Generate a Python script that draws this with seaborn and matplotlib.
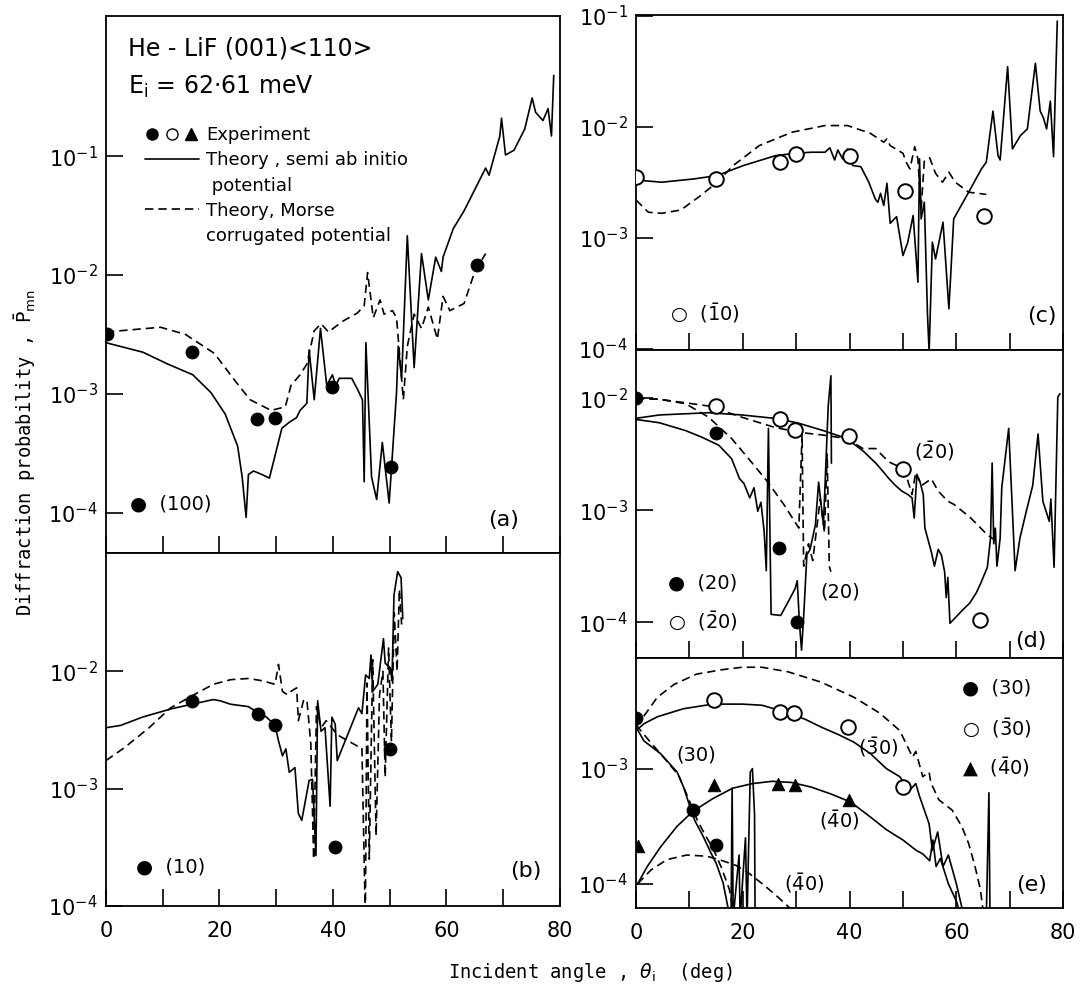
import numpy as np
import pandas as pd
import seaborn as sns
import matplotlib.pyplot as plt
from matplotlib.lines import Line2D
from matplotlib.legend_handler import HandlerTuple
from matplotlib.ticker import FixedLocator, NullLocator, LogFormatterMathtext

# values: (incident angle in deg, log10 of P)
a_solid = [(0, -2.57), (6.5, -2.65), (10.9, -2.75), (15.3, -2.84), (18.5, -2.99), (21.0, -3.17),
           (23.2, -3.44), (24.0, -3.7), (24.7, -4.04), (25.1, -3.68), (26.0, -3.65), (27.5, -3.68),
           (28.8, -3.71), (31.0, -3.29), (32.3, -3.24), (33.6, -3.20), (34.2, -3.14), (34.8, -3.11),
           (35.4, -3.08), (35.8, -2.63), (36.7, -3.05), (37.8, -2.45), (38.9, -2.93), (39.9, -2.84),
           (40.5, -2.93), (41.1, -2.87), (42.0, -2.87), (43.3, -2.87), (44.3, -2.96), (45.2, -3.05),
           (45.5, -3.74), (45.8, -2.57), (46.8, -3.70), (47.7, -3.89), (48.7, -3.41), (49.9, -3.92),
           (51.2, -2.99), (51.5, -2.60), (52.1, -2.87), (53.1, -1.67), (54.3, -2.78), (55.6, -1.82),
           (56.8, -2.21), (58.1, -1.85), (59.1, -1.97), (59.4, -1.85), (61.2, -1.61), (63.1, -1.46),
           (65.0, -1.28), (66.9, -1.10), (67.5, -1.16), (69.4, -0.83), (69.7, -0.68), (70.4, -0.99),
           (71.9, -0.95), (73.8, -0.77), (75.1, -0.51), (75.7, -0.63), (77.0, -0.70), (77.9, -0.60),
           (78.5, -0.83), (78.9, -0.32)]
a_dashed = [(0, -2.48), (9.6, -2.44), (14.0, -2.50), (19.1, -2.66), (22.9, -2.90), (25.4, -3.05),
            (29.1, -3.14), (31.6, -3.11), (32.6, -2.93), (34.2, -2.84), (35.4, -2.75), (36.7, -2.47),
            (37.9, -2.41), (39.2, -2.48), (41.7, -2.39), (44.3, -2.32), (45.5, -2.26), (46.1, -1.98),
            (47.1, -2.36), (48.3, -2.21), (49.0, -2.33), (50.5, -2.30), (51.2, -2.36), (52.4, -3.05),
            (53.1, -2.60), (54.3, -2.33), (55.6, -2.45), (56.8, -2.27), (58.4, -2.54), (59.4, -2.18),
            (60.6, -2.30), (63.1, -2.24), (65.0, -1.97), (66.9, -1.82)]
a_exp = [(0.2, -2.50), (15.1, -2.65), (26.6, -3.21), (29.8, -3.20), (39.9, -2.94), (50.2, -3.62), (65.3, -1.92)]

b_solid = [(0, -2.48), (2.6, -2.46), (6.4, -2.39), (11.4, -2.32), (15.1, -2.28), (18.9, -2.24),
           (20.1, -2.25), (22.0, -2.28), (25.1, -2.30), (26.4, -2.34), (28.3, -2.39), (29.8, -2.46),
           (30.4, -2.59), (31.1, -2.72), (31.7, -2.66), (32.3, -2.86), (33.3, -2.82), (33.9, -3.21),
           (34.5, -3.27), (35.8, -2.93), (36.4, -2.92), (37.0, -3.57), (37.3, -2.25), (37.9, -2.51),
           (38.6, -2.48), (39.5, -3.15), (39.8, -2.39), (40.4, -2.45), (40.75, -2.76), (44.5, -2.31),
           (45.1, -2.36), (45.75, -2.03), (46.4, -2.06), (46.7, -1.86), (47.0, -2.17), (47.9, -2.11),
           (48.9, -1.72), (49.2, -1.93), (50.1, -1.97), (50.4, -2.08), (50.75, -1.35), (51.4, -1.15),
           (52.0, -1.20), (52.3, -1.55)]
b_dashed = [(0, -2.76), (3.25, -2.65), (7.6, -2.48), (11.4, -2.31), (15.1, -2.21), (18.9, -2.11),
            (22.0, -2.07), (25.1, -2.06), (27.6, -2.08), (29.8, -2.11), (30.4, -1.94), (31.1, -2.17),
            (32.0, -2.20), (32.6, -2.17), (33.6, -2.14), (33.9, -2.42), (34.8, -2.25), (35.4, -2.24),
            (36.1, -2.62), (36.6, -3.6), (37.1, -2.30), (37.9, -2.48), (38.8, -2.42), (39.8, -2.48),
            (40.75, -2.54), (42.6, -2.59), (44.8, -2.65), (45.1, -2.65), (45.7, -4.1), (46.0, -2.10),
            (46.4, -3.6), (47.0, -1.90), (47.6, -3.4), (48.2, -2.20), (48.8, -2.00), (49.2, -2.90),
            (49.8, -1.80), (50.3, -2.60), (50.8, -1.50), (51.3, -2.00), (51.7, -1.30), (52.1, -1.60)]
b_exp = [(15.1, -2.25), (26.75, -2.36), (29.7, -2.46), (40.4, -3.5), (50.1, -2.66)]

c_solid = [(0, -2.48), (4.8, -2.50), (10.9, -2.47), (15.2, -2.44), (20.1, -2.35), (26.2, -2.26),
           (29.8, -2.24), (32.8, -2.23), (35.4, -2.23), (36.3, -2.19), (37.2, -2.30), (37.8, -2.21),
           (38.7, -2.29), (39.6, -2.20), (40.6, -2.35), (42.1, -2.36), (43.6, -2.50), (44.8, -2.65),
           (45.3, -2.68), (45.8, -2.60), (46.4, -2.71), (47.0, -2.51), (47.6, -2.87), (48.8, -2.81),
           (50.0, -3.16), (50.9, -3.04), (51.9, -2.80), (52.8, -3.40), (53.1, -2.29), (53.4, -2.83),
           (54.0, -2.68), (54.6, -3.70), (54.9, -4.03), (55.5, -3.04), (56.1, -3.19), (57.5, -2.86),
           (58.6, -3.64), (59.5, -2.83), (62.3, -2.59), (64.7, -2.38), (65.6, -2.32), (66.85, -1.86),
           (67.8, -2.26), (68.2, -2.30), (69.6, -1.46), (70.5, -2.20), (72.0, -2.08), (73.3, -2.02),
           (74.8, -1.43), (75.7, -1.86), (76.3, -1.92), (76.9, -2.02), (77.6, -1.77), (78.2, -2.27),
           (78.9, -1.05)]
c_dashed = [(0, -2.66), (2.3, -2.77), (4.8, -2.78), (8.4, -2.75), (12.1, -2.62), (15.2, -2.50),
            (18.2, -2.35), (23.1, -2.17), (29.2, -2.05), (35.4, -1.99), (39.6, -1.99), (43.9, -2.06),
            (46.4, -2.14), (47.0, -2.11), (47.6, -2.17), (50.0, -2.24), (50.6, -2.32), (51.3, -2.38),
            (52.2, -2.18), (52.8, -2.29), (53.4, -2.74), (54.0, -2.31), (55.0, -2.28), (56.1, -2.42),
            (57.4, -2.50), (58.6, -2.41), (59.8, -2.50), (62.3, -2.59), (64.1, -2.60), (65.6, -2.61)]
c_exp_m10 = [(0, -2.45), (15.0, -2.47), (26.9, -2.32), (30.0, -2.25), (40.1, -2.26), (50.3, -2.58), (65.2, -2.80)]

d_solid_m20 = [(0, -2.18), (4.4, -2.15), (13.6, -2.13), (19.8, -2.15), (25.9, -2.18), (30.2, -2.22),
               (35.1, -2.29), (39.4, -2.36), (42.5, -2.47), (44.9, -2.58), (46.0, -2.64), (47.4, -2.72),
               (48.6, -2.78), (49.8, -2.83), (50.9, -2.86), (51.7, -2.89), (52.1, -3.07), (52.6, -2.69),
               (53.2, -2.75), (53.8, -2.86), (54.1, -3.16), (55.3, -3.37), (55.9, -3.50), (56.6, -3.35),
               (57.2, -3.40), (57.8, -3.55), (58.1, -3.78), (58.4, -3.60), (58.8, -4.01), (60.0, -3.95),
               (61.2, -3.89), (62.5, -3.83), (63.7, -3.74), (64.5, -3.66), (65.8, -3.51), (66.4, -3.25),
               (66.7, -2.58), (67.0, -3.30), (67.3, -3.16), (67.6, -3.50), (68.2, -3.25), (68.5, -2.80),
               (69.8, -2.27), (71.0, -3.54), (71.9, -3.25), (73.1, -3.01), (74.3, -2.78), (75.3, -2.32),
               (76.2, -2.92), (77.4, -3.10), (77.7, -2.90), (78.3, -3.51), (79.0, -1.99), (79.4, -1.96)]
d_solid_20 = [(0, -2.19), (4.4, -2.22), (9.3, -2.29), (12.4, -2.35), (15.5, -2.42), (17.9, -2.54),
              (19.4, -2.72), (20.2, -2.76), (21.3, -2.89), (22.1, -2.80), (22.8, -3.01), (23.4, -2.93),
              (24.0, -3.19), (24.4, -3.54), (24.8, -2.27), (25.3, -3.93), (27.1, -3.94), (28.7, -3.80),
              (29.8, -3.70), (30.2, -3.63), (30.6, -4.00), (31.0, -4.25), (31.4, -3.95), (32.0, -3.40),
              (32.6, -3.35), (33.6, -3.13), (34.2, -2.75), (35.1, -3.13), (36.0, -2.07), (36.5, -1.80),
              (36.6, -2.58)]
d_dashed_20 = [(0, -2.00), (4.4, -2.01), (9.3, -2.05), (13.6, -2.17), (17.9, -2.36), (21.6, -2.57),
               (24.7, -2.75), (27.7, -2.95), (30.5, -3.16), (31.1, -2.32), (31.4, -3.50), (32.3, -3.30),
               (33.1, -3.45), (34.0, -3.10), (34.5, -2.90), (35.3, -3.20), (35.8, -2.50), (36.2, -3.50),
               (36.5, -3.55)]
d_dashed_m20 = [(0, -2.00), (4.4, -2.01), (13.6, -2.07), (19.8, -2.17), (25.9, -2.26), (29.0, -2.29),
                (31.4, -2.31), (35.1, -2.33), (39.4, -2.36), (42.5, -2.45), (44.9, -2.45), (46.1, -2.51),
                (47.4, -2.57), (49.2, -2.61), (50.4, -2.66), (51.7, -2.86), (52.4, -2.66), (53.5, -2.78),
                (55.3, -2.72), (56.6, -2.83), (58.4, -2.92), (59.6, -2.95), (62.7, -3.07), (65.8, -3.22),
                (67.0, -3.26)]
d_exp_20 = [(0, -2.00), (15.0, -2.31), (26.7, -3.34), (30.1, -4.00)]
d_exp_m20 = [(15.0, -2.07), (27.0, -2.19), (29.7, -2.28), (39.9, -2.34), (50.0, -2.63), (64.5, -3.98)]

e_dashed_m30 = [(0, -2.64), (4.0, -2.38), (7.1, -2.27), (11.3, -2.18), (16.3, -2.14), (19.9, -2.12),
                (23.6, -2.12), (28.5, -2.16), (34.7, -2.25), (40.8, -2.38), (45.7, -2.52), (49.4, -2.67),
                (51.8, -2.90), (52.4, -2.85), (53.7, -3.07), (54.9, -3.03), (55.2, -3.12), (56.7, -3.27),
                (59.2, -3.36), (61.0, -3.50), (62.3, -3.65), (63.5, -3.85), (64.5, -4.05), (65.2, -4.30)]
e_solid_m30 = [(0, -2.67), (1.5, -2.61), (4.0, -2.55), (8.9, -2.48), (14.4, -2.44), (19.9, -2.44),
               (23.6, -2.45), (27.3, -2.50), (31.6, -2.57), (34.7, -2.64), (37.7, -2.70), (40.8, -2.77),
               (43.9, -2.87), (46.9, -3.00), (49.4, -3.07), (51.2, -3.19), (52.4, -3.13), (53.1, -3.24),
               (54.9, -3.48), (55.5, -3.71), (56.5, -3.55), (57.5, -3.85), (58.5, -3.75), (60.0, -4.00),
               (61.5, -4.30), (65.6, -4.30), (66.1, -3.21), (66.3, -4.30)]
e_solid_m40 = [(0.3, -4.00), (2.1, -3.85), (4.6, -3.68), (7.7, -3.50), (10.7, -3.37), (14.4, -3.26),
               (18.1, -3.17), (21.8, -3.13), (25.5, -3.11), (29.1, -3.12), (32.8, -3.16), (36.5, -3.22),
               (40.2, -3.29), (43.9, -3.42), (46.9, -3.53), (50.0, -3.62), (52.5, -3.71), (53.7, -3.74),
               (55.0, -3.80), (55.6, -3.62), (56.2, -3.85), (57.0, -3.78), (58.5, -4.00), (60.0, -4.15),
               (61.0, -4.30)]
e_dashed_m40 = [(0.3, -4.00), (2.8, -3.88), (5.8, -3.79), (9.5, -3.75), (13.2, -3.76), (15.6, -3.79),
                (18.7, -3.84), (21.2, -3.91), (24.2, -4.02), (26.7, -4.12), (28.8, -4.21), (29.5, -4.30)]
e_solid_30 = [(0, -2.64), (1.5, -2.76), (4.6, -2.87), (7.7, -3.03), (8.9, -3.16), (10.1, -3.33),
              (11.0, -3.45), (12.6, -3.59), (13.8, -3.71), (15.0, -3.82), (16.3, -3.99), (17.2, -4.20),
              (17.8, -4.30), (18.0, -3.17), (18.2, -4.30), (19.3, -3.75), (19.5, -4.30), (20.5, -3.60),
              (20.8, -4.30), (21.4, -3.03), (21.8, -3.00), (22.2, -3.40), (22.3, -4.30)]
e_dashed_30 = [(0, -2.62), (2.5, -2.76), (5.5, -2.92), (8.0, -3.06), (10.0, -3.28), (11.5, -3.45),
               (13.0, -3.58), (14.5, -3.70), (16.0, -3.86), (17.5, -4.05), (18.5, -4.30)]
e_exp_30 = [(0, -2.56), (10.7, -3.36), (14.9, -3.66)]
e_exp_m30 = [(14.7, -2.40), (26.9, -2.51), (29.6, -2.52), (39.7, -2.64), (50.0, -3.16)]
e_exp_m40 = [(0.3, -3.67), (14.7, -3.14), (26.6, -3.13), (29.8, -3.14), (39.8, -3.27)]

x_ticks = [0, 10, 20, 30, 40, 50, 60, 70, 80]
x_ticklabels = ['0', '', '20', '', '40', '', '60', '', '80']

sns.set_style('ticks')
plt.rcParams['font.family'] = ['DejaVu Sans']
plt.rcParams['mathtext.fontset'] = 'dejavusans'
for k in ['text.color', 'axes.labelcolor', 'xtick.color', 'ytick.color', 'axes.edgecolor']:
    plt.rcParams[k] = 'black'

DASH = (0, (5, 3))


def to_df(pts):
    df = pd.DataFrame(pts, columns=['theta', 'logp'])
    df['p'] = 10 ** df['logp']
    return df


def curve(ax, pts, dashed=False):
    sns.lineplot(data=to_df(pts), x='theta', y='p', ax=ax, sort=False, estimator=None,
                 color='black', lw=1.2, linestyle=DASH if dashed else '-')


def points(ax, pts, kind):
    df = to_df(pts)
    if kind == 'filled':
        sns.scatterplot(data=df, x='theta', y='p', ax=ax, marker='o', s=85,
                        color='black', edgecolor='black', zorder=4)
    elif kind == 'open':
        sns.scatterplot(data=df, x='theta', y='p', ax=ax, marker='o', s=110,
                        facecolor='white', edgecolor='black', linewidth=1.4, zorder=4)
    else:
        sns.scatterplot(data=df, x='theta', y='p', ax=ax, marker='^', s=80,
                        color='black', edgecolor='black', zorder=4)


def setup(ax, ylog, yt, labels):
    ax.set_yscale('log')
    ax.set_xlim(0, 80)
    ax.set_ylim(10 ** ylog[0], 10 ** ylog[1])
    ax.yaxis.set_major_locator(FixedLocator(yt))
    ax.yaxis.set_minor_locator(NullLocator())
    ax.yaxis.set_major_formatter(LogFormatterMathtext())
    ax.set_xticks(x_ticks)
    ax.set_xticklabels(x_ticklabels if labels else [])
    ax.tick_params(direction='in', length=12, width=1.2, labelsize=15, colors='black')
    ax.tick_params(axis='x', pad=11)
    ax.tick_params(axis='y', pad=6)
    for s in ax.spines.values():
        s.set_linewidth(1.3)
        s.set_color('black')
    ax.set_xlabel('')
    ax.set_ylabel('')


fig = plt.figure(figsize=(10.8, 9.94), dpi=100)
ax_a = fig.add_axes([0.0981, 0.4437, 0.4204, 0.5402])
ax_b = fig.add_axes([0.0981, 0.0885, 0.4204, 0.3552])
ax_c = fig.add_axes([0.5889, 0.6479, 0.3955, 0.3370])
ax_d = fig.add_axes([0.5889, 0.3380, 0.3955, 0.3099])
ax_e = fig.add_axes([0.5889, 0.0865, 0.3955, 0.2515])

for ax in [ax_a, ax_b, ax_c, ax_d, ax_e]:
    ax.set_yscale('log')

# (a)
curve(ax_a, a_solid)
curve(ax_a, a_dashed, dashed=True)
points(ax_a, a_exp, 'filled')
setup(ax_a, (-4.34, 0.18), [1e-1, 1e-2, 1e-3, 1e-4], False)
ax_a.text(0.048, 0.94, 'He - LiF (001)<110>', transform=ax_a.transAxes, fontsize=17, va='center')
ax_a.text(0.048, 0.868, r'E$_{\rm i}$ = 62·61 meV', transform=ax_a.transAxes, fontsize=17, va='center')
exp_handle = (Line2D([], [], ls='none', marker='o', mfc='black', mec='black', ms=8),
              Line2D([], [], ls='none', marker='o', mfc='white', mec='black', ms=8),
              Line2D([], [], ls='none', marker='^', mfc='black', mec='black', ms=8))
blank = Line2D([], [], ls='none')
handles = [exp_handle, Line2D([], [], color='black', lw=1.2), blank,
           Line2D([], [], color='black', lw=1.2, ls=DASH), blank]
labels = ['Experiment', 'Theory , semi ab initio', ' potential', 'Theory, Morse', 'corrugated potential']
ax_a.legend(handles, labels, handler_map={tuple: HandlerTuple(ndivide=None, pad=0.3)},
            loc='upper left', bbox_to_anchor=(0.085, 0.795), frameon=False, fontsize=13,
            handlelength=3.0, handletextpad=0.4, labelspacing=0.4, borderpad=0, borderaxespad=0,
            labelcolor='black')
ax_a.text(4.3, 10 ** -3.93, '●  (100)', fontsize=14, va='center')
ax_a.text(70, 10 ** -4.06, '(a)', fontsize=16, ha='center', va='center')

# (b)
curve(ax_b, b_solid)
curve(ax_b, b_dashed, dashed=True)
points(ax_b, b_exp, 'filled')
setup(ax_b, (-4.0, -0.99), [1e-2, 1e-3, 1e-4], True)
ax_b.text(5.3, 10 ** -3.67, '●  (10)', fontsize=14, va='center')
ax_b.text(74, 10 ** -3.7, '(b)', fontsize=16, ha='center', va='center')

# (c)
curve(ax_c, c_solid)
curve(ax_c, c_dashed, dashed=True)
points(ax_c, c_exp_m10, 'open')
setup(ax_c, (-4.01, -0.995), [1e-1, 1e-2, 1e-3, 1e-4], False)
ax_c.text(6.3, 10 ** -3.68, r'○  ($\bar{1}$0)', fontsize=14, va='center')
ax_c.text(76, 10 ** -3.7, '(c)', fontsize=16, ha='center', va='center')

# (d)
curve(ax_d, d_solid_m20)
curve(ax_d, d_solid_20)
curve(ax_d, d_dashed_20, dashed=True)
curve(ax_d, d_dashed_m20, dashed=True)
points(ax_d, d_exp_20, 'filled')
points(ax_d, d_exp_m20, 'open')
setup(ax_d, (-4.32, -1.57), [1e-2, 1e-3, 1e-4], False)
ax_d.text(55.8, 10 ** -2.47, r'($\bar{2}$0)', fontsize=14, ha='center', va='center')
ax_d.text(6.0, 10 ** -3.65, '●  (20)', fontsize=14, va='center')
ax_d.text(6.0, 10 ** -3.99, r'○  ($\bar{2}$0)', fontsize=14, va='center')
ax_d.text(38.3, 10 ** -3.73, '(20)', fontsize=14, ha='center', va='center')
ax_d.text(74, 10 ** -4.17, '(d)', fontsize=16, ha='center', va='center')

# (e)
curve(ax_e, e_dashed_m30, dashed=True)
curve(ax_e, e_solid_m30)
curve(ax_e, e_solid_m40)
curve(ax_e, e_dashed_m40, dashed=True)
curve(ax_e, e_solid_30)
curve(ax_e, e_dashed_30, dashed=True)
points(ax_e, e_exp_30, 'filled')
points(ax_e, e_exp_m30, 'open')
points(ax_e, e_exp_m40, 'tri')
setup(ax_e, (-4.21, -2.04), [1e-3, 1e-4], True)
ax_e.text(61, 10 ** -2.30, '●  (30)', fontsize=14, va='center')
ax_e.text(61, 10 ** -2.65, r'○  ($\bar{3}$0)', fontsize=14, va='center')
ax_e.text(61, 10 ** -2.99, r'▲  ($\bar{4}$0)', fontsize=14, va='center')
ax_e.text(11.3, 10 ** -2.88, '(30)', fontsize=14, ha='center', va='center')
ax_e.text(45.4, 10 ** -2.81, r'($\bar{3}$0)', fontsize=14, ha='center', va='center')
ax_e.text(38.0, 10 ** -3.45, r'($\bar{4}$0)', fontsize=14, ha='center', va='center')
ax_e.text(31.5, 10 ** -3.99, r'($\bar{4}$0)', fontsize=14, ha='center', va='center')
ax_e.text(74, 10 ** -4.01, '(e)', fontsize=16, ha='center', va='center')

fig.text(0.023, 0.545, r'Diffraction probability , $\bar{\mathrm{P}}_{\mathrm{mn}}$',
         rotation=90, ha='center', va='center', fontsize=13.5, family='DejaVu Sans Mono')
fig.text(0.547, 0.022, r'Incident angle , $\theta_{\rm i}$  (deg)',
         ha='center', va='center', fontsize=13.5, family='DejaVu Sans Mono')

fig.savefig('out.png', dpi=100)
